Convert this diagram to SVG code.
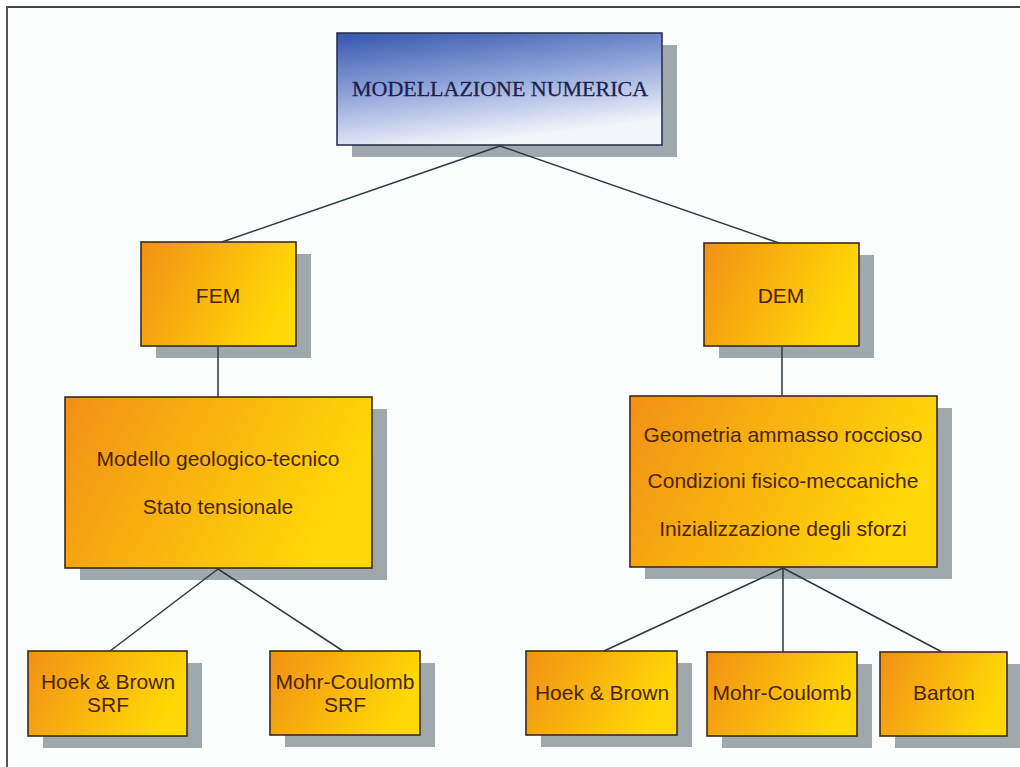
<svg xmlns="http://www.w3.org/2000/svg" width="1020" height="767" viewBox="0 0 1020 767">
<defs>
<linearGradient id="og" x1="0" y1="0" x2="1" y2="0.3">
<stop offset="0" stop-color="#f29016"/>
<stop offset="1" stop-color="#ffd806"/>
</linearGradient>
<linearGradient id="bg" x1="0" y1="0" x2="0.35" y2="1">
<stop offset="0" stop-color="#3656ad"/>
<stop offset="0.5" stop-color="#8ea3d9"/>
<stop offset="1" stop-color="#f2f5fb"/>
</linearGradient>
</defs>
<style>
.sh{fill:#9ea8ad}
.ob{fill:url(#og);stroke:#3a2a20;stroke-width:1.6}
.bb{fill:url(#bg);stroke:#2a3550;stroke-width:1.6}
.t{font-family:"Liberation Sans",Arial,sans-serif;font-size:21px;fill:#4a2410;text-anchor:middle}
.tt{font-family:"Liberation Serif","Times New Roman",serif;font-size:22px;fill:#1c2250;text-anchor:middle;stroke:#1c2250;stroke-width:0.3}
.c line{stroke:#2a3a40;stroke-width:1.5}
</style>
<rect x="0" y="0" width="1020" height="767" fill="#ffffff"/>
<rect x="8" y="7" width="1012" height="760" fill="#fbfcfc"/>
<line x1="7" y1="7" x2="1020" y2="7" stroke="#444" stroke-width="2"/>
<line x1="7" y1="6" x2="7" y2="767" stroke="#555" stroke-width="2"/>
<g id="root">
<rect class="sh" x="352" y="45" width="325" height="112"/>
<rect class="bb" x="337" y="33" width="325" height="112"/>
<text class="tt" x="500" y="96" textLength="296" lengthAdjust="spacingAndGlyphs">MODELLAZIONE NUMERICA</text>
</g>
<g id="fem">
<rect class="sh" x="156" y="254" width="155" height="104"/>
<rect class="ob" x="141" y="242" width="155" height="104"/>
<text class="t" x="218" y="303" font-size="22">FEM</text>
</g>
<g id="dem">
<rect class="sh" x="719" y="255" width="155" height="103"/>
<rect class="ob" x="704" y="243" width="155" height="103"/>
<text class="t" x="781" y="303" font-size="22">DEM</text>
</g>
<g id="fem-sub">
<rect class="sh" x="80" y="409" width="307" height="171"/>
<rect class="ob" x="65" y="397" width="307" height="171"/>
<text class="t" x="218" y="466">Modello geologico-tecnico</text>
<text class="t" x="218" y="514">Stato tensionale</text>
</g>
<g id="dem-sub">
<rect class="sh" x="645" y="408" width="307" height="171"/>
<rect class="ob" x="630" y="396" width="307" height="171"/>
<text class="t" x="783" y="442">Geometria ammasso roccioso</text>
<text class="t" x="783" y="488">Condizioni fisico-meccaniche</text>
<text class="t" x="783" y="536">Inizializzazione degli sforzi</text>
</g>
<g id="hb-srf">
<rect class="sh" x="43" y="663" width="159" height="85"/>
<rect class="ob" x="28" y="651" width="159" height="85"/>
<text class="t" x="108" y="689" font-size="20">Hoek &amp; Brown</text>
<text class="t" x="108" y="712" font-size="20">SRF</text>
</g>
<g id="mc-srf">
<rect class="sh" x="285" y="663" width="150" height="84"/>
<rect class="ob" x="270" y="651" width="150" height="84"/>
<text class="t" x="345" y="689" font-size="20">Mohr-Coulomb</text>
<text class="t" x="345" y="712" font-size="20">SRF</text>
</g>
<g id="hb">
<rect class="sh" x="541" y="663" width="151" height="84"/>
<rect class="ob" x="526" y="651" width="151" height="84"/>
<text class="t" x="602" y="700" font-size="20">Hoek &amp; Brown</text>
</g>
<g id="mc">
<rect class="sh" x="722" y="664" width="150" height="84"/>
<rect class="ob" x="707" y="652" width="150" height="84"/>
<text class="t" x="782" y="700" font-size="20">Mohr-Coulomb</text>
</g>
<g id="barton">
<rect class="sh" x="895" y="664" width="125" height="84"/>
<rect class="ob" x="880" y="652" width="127" height="84"/>
<text class="t" x="944" y="700" font-size="20">Barton</text>
</g>
<g class="c">
<line x1="500" y1="146" x2="222" y2="242"/>
<line x1="500" y1="146" x2="779" y2="243"/>
<line x1="218" y1="347" x2="218" y2="397"/>
<line x1="782" y1="347" x2="782" y2="396"/>
<line x1="218" y1="569" x2="110" y2="651"/>
<line x1="218" y1="569" x2="343" y2="651"/>
<line x1="783" y1="568" x2="604" y2="651"/>
<line x1="783" y1="568" x2="783" y2="652"/>
<line x1="783" y1="568" x2="942" y2="652"/>
</g>
</svg>
